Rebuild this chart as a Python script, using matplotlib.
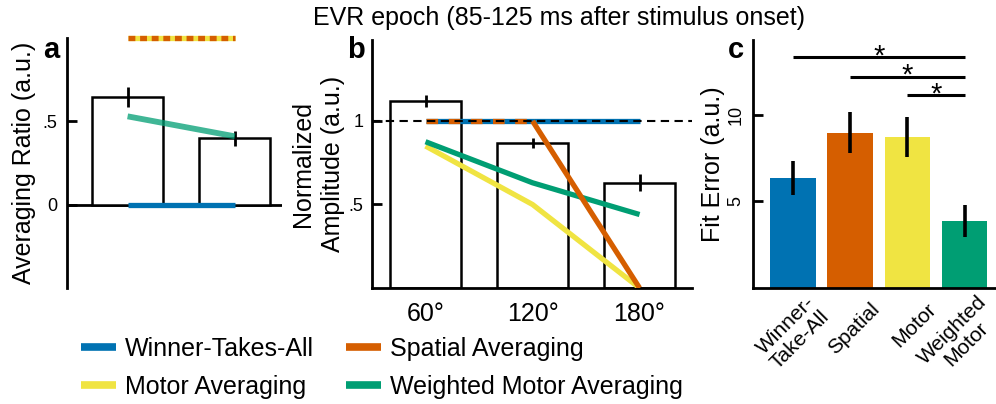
import numpy as np
import matplotlib.pyplot as plt
from matplotlib.lines import Line2D
from matplotlib.transforms import ScaledTranslation

plt.rcParams['font.family'] = ['Liberation Sans', 'DejaVu Sans']

# Farben (Okabe-Ito)
c_wta = '#0072B2'
c_spatial = '#D55E00'
c_motor = '#F0E442'
c_weighted = '#009E73'

# Panel a: Averaging Ratio
a_ratio = [0.645, 0.40]
a_err = [0.06, 0.045]
a_wta = [0.0, 0.0]
a_spatial = [1.0, 1.0]
a_motor = [1.0, 1.0]
a_weighted = [0.53, 0.41]

# Panel b: normalisierte Amplitude
angles = ['60°', '120°', '180°']
b_amp = [1.12, 0.87, 0.63]
b_err = [0.035, 0.03, 0.05]
b_wta = [1.0, 1.0, 1.0]
b_spatial = [1.0, 1.0, 0.0]
b_motor = [0.85, 0.50, 0.0]
b_weighted = [0.876, 0.63, 0.44]

# Panel c: Fit Error
models = ['Winner-\nTake-All', 'Spatial', 'Motor', 'Weighted\nMotor']
fit_err = [6.36, 8.94, 8.71, 3.87]
fit_sem = [0.98, 1.18, 1.17, 0.92]
sig_pairs = [(1, 4), (2, 4), (3, 4)]
sig_y = [13.3, 12.17, 11.1]

fig = plt.figure(figsize=(9.96, 4.04), dpi=100)
W, H = 996, 404

def px_axes(left, right, top, bottom):
    return fig.add_axes([left / W, 1 - bottom / H, (right - left) / W, (bottom - top) / H])

fs = 18
lw_spine = 2.0
lw_bar = 1.8
lw_model = 3.8

# ---------- Panel a ----------
ax_a = px_axes(67, 282, 38, 288)
xa = np.arange(1, len(a_ratio) + 1)
ax_a.bar(xa, a_ratio, width=0.66, color='white', edgecolor='black', linewidth=lw_bar, zorder=2)
ax_a.errorbar(xa, a_ratio, yerr=a_err, fmt='none', ecolor='black', elinewidth=2, capsize=0, zorder=3)
ax_a.axhline(0, color='black', lw=lw_spine, zorder=1)
ax_a.plot(xa, a_wta, color=c_wta, lw=lw_model, solid_capstyle='butt', zorder=4)
ax_a.plot(xa, a_weighted, color=c_weighted, alpha=0.75, lw=lw_model + 0.4, solid_capstyle='butt', zorder=4)
ax_a.plot(xa, a_motor, color=c_motor, lw=lw_model, solid_capstyle='butt', zorder=4, clip_on=False)
ax_a.plot(xa, a_spatial, color=c_spatial, lw=lw_model, linestyle=(0, (1.3, 0.9)),
          dash_capstyle='butt', zorder=5, clip_on=False)
ax_a.set_xlim(0.435, 2.44)
ax_a.set_ylim(-0.5, 1.0)
ax_a.set_xticks([])
ax_a.set_yticks([0, 0.5])
ax_a.set_yticklabels(['0', '.5'])
for s in ['top', 'right', 'bottom']:
    ax_a.spines[s].set_visible(False)
ax_a.spines['left'].set_linewidth(lw_spine)
ax_a.tick_params(axis='y', direction='in', length=7, width=lw_spine, labelsize=13, pad=7)
ax_a.set_ylabel('Averaging Ratio (a.u.)', fontsize=fs, va='center')
ax_a.yaxis.set_label_coords(-0.2, 0.5)

# ---------- Panel b ----------
ax_b = px_axes(372, 692, 40, 288)
xb = np.arange(1, len(angles) + 1)
ax_b.bar(xb, b_amp, width=0.66, color='white', edgecolor='black', linewidth=lw_bar, zorder=2)
ax_b.errorbar(xb, b_amp, yerr=b_err, fmt='none', ecolor='black', elinewidth=2, capsize=0, zorder=3)
ax_b.plot(xb, b_wta, color=c_wta, lw=lw_model, solid_capstyle='butt', zorder=4)
ax_b.plot(xb[:2], b_spatial[:2], color=c_spatial, lw=lw_model, linestyle=(0, (2.2, 2.0)),
          dash_capstyle='butt', zorder=5)
ax_b.plot(xb[1:], b_spatial[1:], color=c_spatial, lw=lw_model, solid_capstyle='butt', zorder=5)
ax_b.plot(xb, b_motor, color=c_motor, lw=lw_model, solid_capstyle='butt', zorder=4)
ax_b.plot(xb, b_weighted, color=c_weighted, lw=lw_model, solid_capstyle='butt', zorder=4)
ax_b.axhline(1, color='black', lw=1.5, linestyle=(0, (4, 2.6)), zorder=6)
ax_b.set_xlim(0.5, 3.49)
ax_b.set_ylim(0, 1.485)
ax_b.set_xticks(xb)
ax_b.set_xticklabels(angles)
ax_b.set_yticks([0.5, 1])
ax_b.set_yticklabels(['.5', '1'])
for s in ['top', 'right']:
    ax_b.spines[s].set_visible(False)
for s in ['left', 'bottom']:
    ax_b.spines[s].set_linewidth(lw_spine)
ax_b.tick_params(axis='y', direction='in', length=7, width=lw_spine, labelsize=13, pad=6)
ax_b.tick_params(axis='x', length=0, labelsize=fs, pad=10)
ax_b.set_ylabel('Normalized\nAmplitude (a.u.)', fontsize=fs, va='center', linespacing=1.3)
ax_b.yaxis.set_label_coords(-0.169, 0.5)

# ---------- Panel c ----------
ax_c = px_axes(753, 996, 40, 288)
xc = np.arange(1, len(models) + 1)
ax_c.bar(xc, fit_err, width=0.8, color=[c_wta, c_spatial, c_motor, c_weighted], zorder=2)
ax_c.errorbar(xc, fit_err, yerr=fit_sem, fmt='none', ecolor='black', elinewidth=2.6, capsize=0, zorder=3)
for (i, j), y in zip(sig_pairs, sig_y):
    ax_c.plot([i, j], [y, y], color='black', lw=2.2, solid_capstyle='butt', clip_on=False)
    ax_c.annotate('*', xy=((i + j) / 2, y), xytext=(0, -5), textcoords='offset points',
                  ha='center', va='baseline', fontsize=21)
ax_c.set_xlim(0.3, 4.55)
ax_c.set_ylim(0, 14.3)
ax_c.set_yticks([5, 10])
ax_c.set_yticklabels(['5', '10'], rotation=90, va='center')
ax_c.set_xticks(xc)
for s in ['top', 'right']:
    ax_c.spines[s].set_visible(False)
for s in ['left', 'bottom']:
    ax_c.spines[s].set_linewidth(lw_spine)
ax_c.tick_params(axis='y', direction='in', length=7, width=lw_spine, labelsize=13, pad=6)
ax_c.tick_params(axis='x', length=0, pad=13)
ax_c.set_xticklabels(models, rotation=45, ha='right', va='center', rotation_mode='anchor',
                     multialignment='center', fontsize=15, linespacing=1.08)
# Beschriftungen nach rechts schieben (nach tick_params, sonst wird der Transform zurueckgesetzt)
shift = ScaledTranslation(0.26, 0, fig.dpi_scale_trans)
for lab in ax_c.get_xticklabels():
    lab.set_transform(lab.get_transform() + shift)
ax_c.set_ylabel('Fit Error (a.u.)', fontsize=fs, va='center')
ax_c.yaxis.set_label_coords(-0.165, 0.5)

# Titel und Panel-Buchstaben
fig.text(559 / W, 1 - 18 / H, 'EVR epoch (85-125 ms after stimulus onset)', ha='center', va='center', fontsize=fs)
for lab, x in zip(['a', 'b', 'c'], [43, 347, 728]):
    fig.text(x / W, 1 - 58 / H, lab, ha='left', va='baseline', fontsize=21, fontweight='bold')

# Legende
handles = [Line2D([], [], color=c_wta, lw=5.5, solid_capstyle='butt'),
           Line2D([], [], color=c_motor, lw=5.5, solid_capstyle='butt'),
           Line2D([], [], color=c_spatial, lw=5.5, solid_capstyle='butt'),
           Line2D([], [], color=c_weighted, lw=5.5, solid_capstyle='butt')]
labels = ['Winner-Takes-All', 'Motor Averaging', 'Spatial Averaging', 'Weighted Motor Averaging']
fig.legend(handles, labels, ncol=2, loc='upper left', bbox_to_anchor=(81 / W, 1 - 337 / H),
           bbox_transform=fig.transFigure, frameon=False, fontsize=fs, borderpad=0,
           borderaxespad=0, handlelength=1.4, handletextpad=0.35, columnspacing=1.3,
           labelspacing=0.55)

fig.savefig('out.png', dpi=100)
